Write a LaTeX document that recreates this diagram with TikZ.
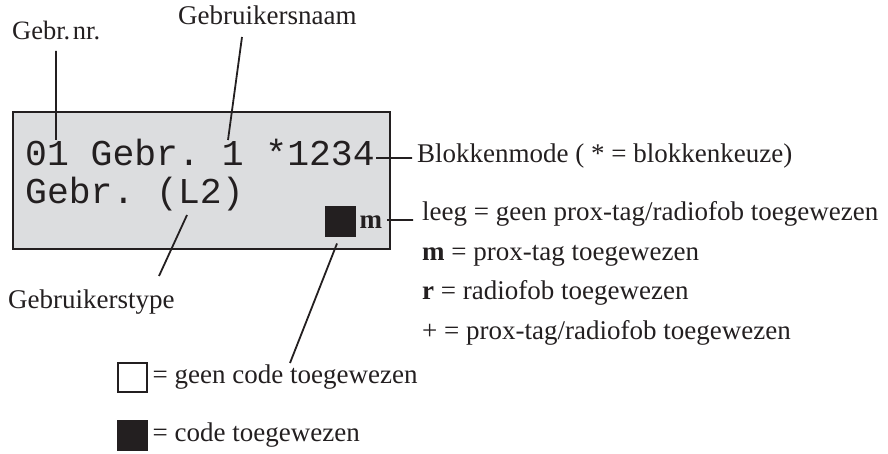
\documentclass[tikz,border=0pt]{standalone}
\usepackage{fontspec}
\setmainfont{Liberation Serif}
\setmonofont{Liberation Mono}
\usetikzlibrary{positioning}
\definecolor{ink}{HTML}{231F20}
\definecolor{lcdgrey}{HTML}{DCDDDF}

\begin{document}
\begin{tikzpicture}[x=1pt,y=-1pt,color=ink,
  lbl/.style={anchor=base west,inner sep=0pt,font=\fontsize{27}{30}\selectfont},
  lcd/.style={anchor=base west,inner sep=0pt,font=\fontsize{36.4}{40}\selectfont\ttfamily},
  lead/.style={line width=1.8pt},
  sq/.style={draw,line width=2pt,minimum size=29pt,inner sep=0pt}]
\useasboundingbox (0,0) rectangle (888,454);
\node[draw,line width=2.4pt,fill=lcdgrey,minimum width=377pt,minimum height=137pt] (display) at (201.5,180.5) {};
\node[lcd]          (row1)  at (25,166) {01 Gebr. 1 *1234};
\node[lcd]          (row2)  at (25,204) {Gebr. (L2)};
\node[sq,fill=ink]  (code)  at (340,222) {};
\node[lbl,font=\fontsize{27}{30}\selectfont\bfseries,right=4pt of code.east,anchor=west] (tag) {m};
\node[lbl,font=\fontsize{26.5}{30}\selectfont] (gebrnr) at (12,40) {Gebr.\hspace{0.1em}nr.};
\node[lbl]          (gebrnaam) at (178,25) {Gebruikersnaam};
\node[lbl]          (mode)     at (417,163) {Blokkenmode ( * = blokkenkeuze)};
\node[lbl]          (leeg)     at (422,221) {leeg = geen prox-tag/radiofob toegewezen};
\node[lbl,below=39pt of leeg.base west,anchor=base west]  (mtag)  {\textbf{m} = prox-tag toegewezen};
\node[lbl,below=39pt of mtag.base west,anchor=base west]  (rtag)  {\textbf{r} = radiofob toegewezen};
\node[lbl,below=40pt of rtag.base west,anchor=base west]  (ptag)  {+ = prox-tag/radiofob toegewezen};
\node[lbl]          (type)     at (8,308) {Gebruikerstype};
\node[sq,fill=white] (geen)  at (132,377.5) {};
\node[lbl,right=5pt of geen.east,anchor=west] (geentxt) {= geen code toegewezen};
\node[sq,fill=ink]  (wel)   at (132,435) {};
\node[lbl,right=5pt of wel.east,anchor=west] (weltxt) {= code toegewezen};
\coordinate (nrend)   at (56,140);
\coordinate (naamend) at (228,140);
\coordinate (modeend) at (376,158);
\coordinate (tagend)  at (387,220);
\coordinate (typeend) at (187,215);
\coordinate (codeend) at (290,363);
\path[lead,draw]
  (nrend)   -- (56,51)
  (naamend) -- (242,37)
  (modeend) -- (412,158)
  (tagend)  -- (413,220)
  (typeend) -- (159,276)
  (code.south) ++(-3,6) -- (codeend);
\end{tikzpicture}
\end{document}
